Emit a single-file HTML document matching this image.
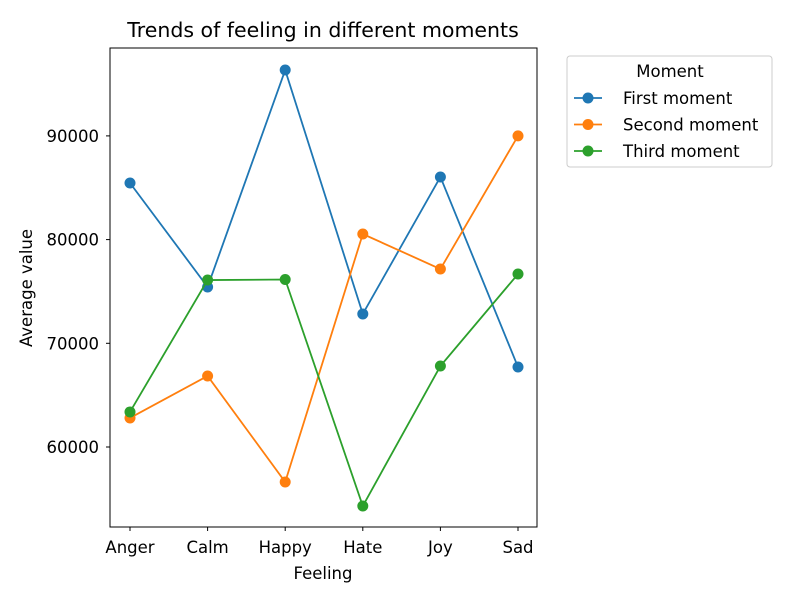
<!DOCTYPE html>
<html><head><meta charset="utf-8"><style>
body{margin:0;background:#fff;font-family:"DejaVu Sans","Liberation Sans",sans-serif;}
text{font-family:"DejaVu Sans","Liberation Sans",sans-serif;}
</style></head><body>
<svg id="chart" width="798" height="595" xmlns="http://www.w3.org/2000/svg"></svg>
<script>
const categories = ["Anger","Calm","Happy","Hate","Joy","Sad"];
const firstMoment = [85460, 75430, 96350, 72830, 86040, 67710];
const secondMoment = [62800, 66850, 56620, 80540, 77160, 90000];
const thirdMoment = [63380, 76100, 76150, 54310, 67810, 76680];
const yTicks = [60000, 70000, 80000, 90000];
const seriesNames = ["First moment","Second moment","Third moment"];

const svg = document.getElementById('chart');
const NS = 'http://www.w3.org/2000/svg';
const L=110,R=537,T=48,B=527, yMin=52285, yMax=98476;
function xs(i){return 130 + i*(518-130)/(categories.length-1);}
function ys(v){return B - (v-yMin)/(yMax-yMin)*(B-T);}
function mk(tag, attrs){const e=document.createElementNS(NS,tag);for(const k in attrs)e.setAttribute(k,attrs[k]);svg.appendChild(e);return e;}

let t=mk('text',{x:323,y:37,'text-anchor':'middle','font-size':'20.5',fill:'#000'});t.textContent='Trends of feeling in different moments';



yTicks.forEach(v=>{
  const y=ys(v);
  const l=mk('line',{x1:L-4,x2:L,y1:y,y2:y,stroke:'#000'});
  
  
  const tx=mk('text',{x:L-11,y:y+6,'text-anchor':'end','font-size':'16.5',fill:'#000'});tx.textContent=v;
  
  
});
categories.forEach((c,i)=>{
  const x=xs(i);
  const l=mk('line',{x1:x,x2:x,y1:B,y2:B+4,stroke:'#000'});
  
  
  const tx=mk('text',{x:x,y:B+26,'text-anchor':'middle','font-size':'16.5',fill:'#000'});tx.textContent=c;
  
  
});
t=mk('text',{x:323,y:579,'text-anchor':'middle','font-size':'16.5',fill:'#000'});t.textContent='Feeling';


t=mk('text',{x:32,y:288,'text-anchor':'middle','font-size':'16.5',fill:'#000',transform:'rotate(-90 32 288)'});t.textContent='Average value';



const colors=['#1f77b4','#ff7f0e','#2ca02c'];
[firstMoment,secondMoment,thirdMoment].forEach((s,k)=>{
  const p=mk('polyline',{points:s.map((v,i)=>xs(i)+','+ys(v)).join(' '),fill:'none',stroke:colors[k],'stroke-width':'1.8'});
  
  
  s.forEach((v,i)=>{
    const c=mk('circle',{cx:xs(i),cy:ys(v),r:5.5,fill:colors[k]});
    
    
  });
});
const frame=mk('rect',{x:L,y:T,width:R-L,height:B-T,fill:'none',stroke:'#000','stroke-width':'1'});



const lg=mk('rect',{x:567,y:56,width:205,height:111,rx:3,fill:'#fff',stroke:'#ccc'});


t=mk('text',{x:670,y:77,'text-anchor':'middle','font-size':'16.5',fill:'#000'});t.textContent='Moment';


seriesNames.forEach((n,k)=>{
  const y=98+k*26.5;
  const l=mk('line',{x1:574,x2:602,y1:y,y2:y,stroke:colors[k],'stroke-width':'1.8'});
  
  
  const c=mk('circle',{cx:588,cy:y,r:5.5,fill:colors[k]});
  
  
  const tx=mk('text',{x:623,y:y+6,'font-size':'16.5',fill:'#000'});tx.textContent=n;
  
  
});
</script>
</body></html>
